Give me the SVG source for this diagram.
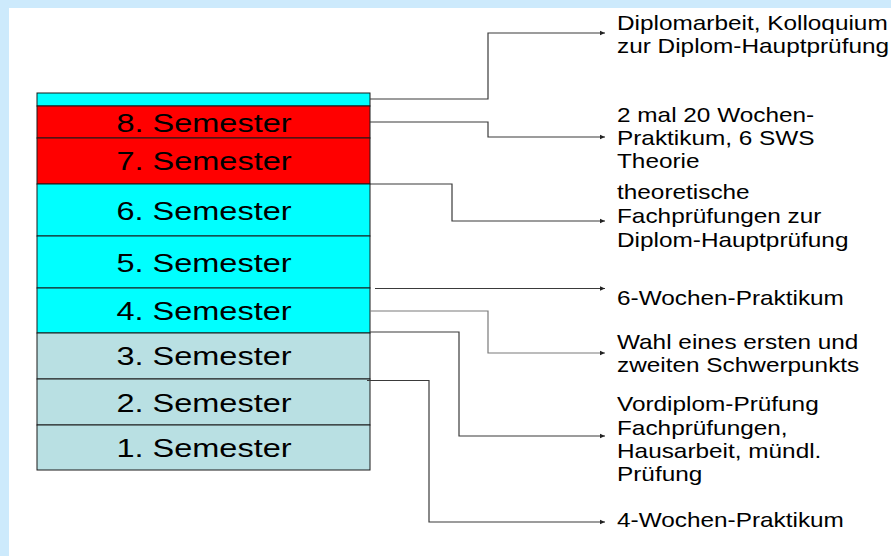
<svg xmlns="http://www.w3.org/2000/svg" width="891" height="556" viewBox="0 0 891 556">
  <style>
    .sem { font-family: "Liberation Sans", Arial, sans-serif; font-size: 25px; fill: #000; text-anchor: middle; }
    .note { font-family: "Liberation Sans", Arial, sans-serif; font-size: 21px; fill: #000; }
    .cell { stroke: #1a1a1a; stroke-width: 1; }
    .cyan { fill: #00ffff; }
    .red { fill: #ff0000; }
    .pale { fill: #b9e0e3; }
    .conn { fill: none; stroke: #3a3a3a; stroke-width: 1.2; marker-end: url(#arrow); }
    .conn.light { stroke: #7a7a7a; }
  </style>
  <defs>
    <marker id="arrow" markerUnits="userSpaceOnUse" markerWidth="6" markerHeight="6" refX="5" refY="3" orient="auto">
      <path d="M0,0.8 L5,3 L0,5.2 Z" fill="#222"/>
    </marker>
  </defs>

  <!-- page frame -->
  <rect x="0" y="0" width="891" height="556" fill="#cdeafc"/>
  <rect x="9" y="8" width="882" height="548" fill="#ffffff"/>

  <!-- semester stack -->
  <g id="thesis-strip">
    <rect class="cell cyan" x="37" y="93" width="333" height="13" stroke="#808080"/>
  </g>
  <g id="sem8">
    <rect class="cell red" x="37" y="106" width="333" height="32"/>
    <text class="sem" transform="translate(204,131.5) scale(1.3,1)">8. Semester</text>
  </g>
  <g id="sem7">
    <rect class="cell red" x="37" y="138" width="333" height="46"/>
    <text class="sem" transform="translate(204,170) scale(1.3,1)">7. Semester</text>
  </g>
  <g id="sem6">
    <rect class="cell cyan" x="37" y="184" width="333" height="52"/>
    <text class="sem" transform="translate(204,220) scale(1.3,1)">6. Semester</text>
  </g>
  <g id="sem5">
    <rect class="cell cyan" x="37" y="236" width="333" height="52"/>
    <text class="sem" transform="translate(204,272) scale(1.3,1)">5. Semester</text>
  </g>
  <g id="sem4">
    <rect class="cell cyan" x="37" y="288" width="333" height="45"/>
    <text class="sem" transform="translate(204,320) scale(1.3,1)">4. Semester</text>
  </g>
  <g id="sem3">
    <rect class="cell pale" x="37" y="333" width="333" height="46"/>
    <text class="sem" transform="translate(204,365) scale(1.3,1)">3. Semester</text>
  </g>
  <g id="sem2">
    <rect class="cell pale" x="37" y="379" width="333" height="46"/>
    <text class="sem" transform="translate(204,412) scale(1.3,1)">2. Semester</text>
  </g>
  <g id="sem1">
    <rect class="cell pale" x="37" y="425" width="333" height="45"/>
    <text class="sem" transform="translate(204,457) scale(1.3,1)">1. Semester</text>
  </g>

  <!-- connectors -->
  <g id="connectors">
    <path class="conn" d="M370,99 H488 V33 H605"/>
    <path class="conn" d="M370,122 H488 V137 H605"/>
    <path class="conn" d="M370,184 H452 V221 H605"/>
    <path class="conn" d="M375,288.5 H605"/>
    <path class="conn light" d="M370,311 H488 V353 H605"/>
    <path class="conn" d="M370,332 H459 V436 H605"/>
    <path class="conn" d="M367,380.5 H429 V522 H605"/>
  </g>

  <!-- notes -->
  <g id="note-thesis" transform="translate(617,0) scale(1.16,1)">
    <text class="note" x="0" y="30">Diplomarbeit, Kolloquium</text>
    <text class="note" x="0" y="53">zur Diplom-Hauptprüfung</text>
  </g>
  <g id="note-practice" transform="translate(617,0) scale(1.16,1)">
    <text class="note" x="0" y="122">2 mal 20 Wochen-</text>
    <text class="note" x="0" y="145">Praktikum, 6 SWS</text>
    <text class="note" x="0" y="168">Theorie</text>
  </g>
  <g id="note-exams" transform="translate(617,0) scale(1.16,1)">
    <text class="note" x="0" y="199">theoretische</text>
    <text class="note" x="0" y="223">Fachprüfungen zur</text>
    <text class="note" x="0" y="247">Diplom-Hauptprüfung</text>
  </g>
  <g id="note-6weeks" transform="translate(617,0) scale(1.16,1)">
    <text class="note" x="0" y="305">6-Wochen-Praktikum</text>
  </g>
  <g id="note-focus" transform="translate(617,0) scale(1.16,1)">
    <text class="note" x="0" y="349">Wahl eines ersten und</text>
    <text class="note" x="0" y="372">zweiten Schwerpunkts</text>
  </g>
  <g id="note-prelim" transform="translate(617,0) scale(1.16,1)">
    <text class="note" x="0" y="411">Vordiplom-Prüfung</text>
    <text class="note" x="0" y="435">Fachprüfungen,</text>
    <text class="note" x="0" y="458">Hausarbeit, mündl.</text>
    <text class="note" x="0" y="481">Prüfung</text>
  </g>
  <g id="note-4weeks" transform="translate(617,0) scale(1.16,1)">
    <text class="note" x="0" y="527">4-Wochen-Praktikum</text>
  </g>
</svg>
